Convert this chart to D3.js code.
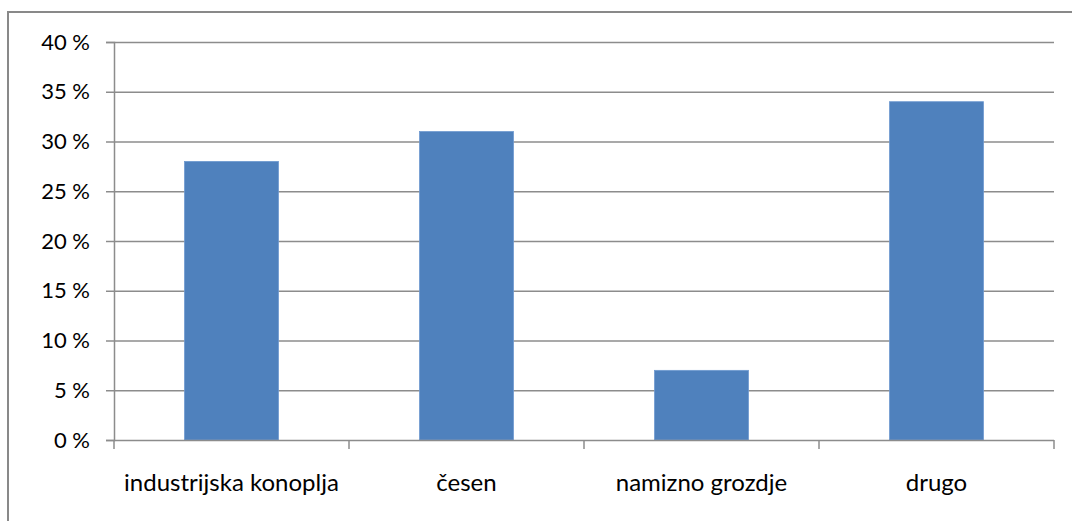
<!DOCTYPE html>
<html>
<head>
<meta charset="utf-8">
<script src="https://cdn.jsdelivr.net/npm/d3@7"></script>
<style>
  body { margin: 0; background: #fff; }
  svg { display: block; }
  text { font-family: Lato, "Open Sans", sans-serif; fill: #000; }
</style>
</head>
<body>
<svg width="1072" height="521"></svg>
<script>
// data
const categories = ["industrijska konoplja", "česen", "namizno grozdje", "drugo"];
const shares = [28, 31, 7, 34];
const yTicks = [0, 5, 10, 15, 20, 25, 30, 35, 40];

const width = 1072;
const height = 521;
const plot = { left: 114, right: 1054, top: 42, bottom: 440 };

const svg = d3.select("svg");

// outer frame, runs off the right and bottom edge
svg.append("rect")
  .attr("x", 8).attr("y", 12)
  .attr("width", 1100).attr("height", 560)
  .attr("fill", "none")
  .attr("stroke", "#898989")
  .attr("stroke-width", 2);

const x = d3.scaleBand()
  .domain(categories)
  .range([plot.left, plot.right])
  .paddingInner(0.6)
  .paddingOuter(0.3);

const y = d3.scaleLinear()
  .domain([0, 40])
  .range([plot.bottom, plot.top]);

// gridlines
svg.append("g")
  .selectAll("line")
  .data(yTicks.filter(d => d > 0))
  .enter().append("line")
  .attr("x1", plot.left).attr("x2", plot.right)
  .attr("y1", d => y(d) + 0.5).attr("y2", d => y(d) + 0.5)
  .attr("stroke", "#8c8c8c")
  .attr("stroke-width", 1.5);

// bars
svg.append("g")
  .selectAll("rect")
  .data(shares)
  .enter().append("rect")
  .attr("x", (d, i) => x(categories[i]))
  .attr("y", d => y(d))
  .attr("width", x.bandwidth())
  .attr("height", d => y(0) - y(d))
  .attr("fill", "#4f81bd")
  .attr("stroke", "#6f9ad0")
  .attr("stroke-width", 0.8);

// y axis
const yAxis = d3.axisLeft(y)
  .tickValues(yTicks)
  .tickSize(8)
  .tickPadding(16)
  .tickFormat(d => d + " %");

svg.append("g")
  .attr("transform", `translate(${plot.left},0)`)
  .call(yAxis)
  .call(g => g.select(".domain").attr("stroke", "#8c8c8c").attr("stroke-width", 1.5))
  .call(g => g.selectAll(".tick line").attr("stroke", "#8c8c8c").attr("stroke-width", 1.5))
  .call(g => g.selectAll(".tick text")
    .style("font-size", "22px")
    .style("font-family", "Lato, 'Open Sans', sans-serif")
    .attr("fill", "#000"));

// x axis: ticks on the category boundaries
const step = x.step();
const bounds = d3.range(categories.length + 1).map(i => plot.left + i * step);

svg.append("line")
  .attr("x1", plot.left).attr("x2", plot.right)
  .attr("y1", plot.bottom + 0.5).attr("y2", plot.bottom + 0.5)
  .attr("stroke", "#8c8c8c")
  .attr("stroke-width", 1.5);

svg.append("g")
  .selectAll("line")
  .data(bounds)
  .enter().append("line")
  .attr("x1", d => d).attr("x2", d => d)
  .attr("y1", plot.bottom).attr("y2", plot.bottom + 9)
  .attr("stroke", "#8c8c8c")
  .attr("stroke-width", 1.5);

svg.append("g")
  .selectAll("text")
  .data(categories)
  .enter().append("text")
  .attr("x", d => x(d) + x.bandwidth() / 2)
  .attr("y", 491)
  .attr("text-anchor", "middle")
  .style("font-size", "24px")
  .text(d => d);
</script>
</body>
</html>
